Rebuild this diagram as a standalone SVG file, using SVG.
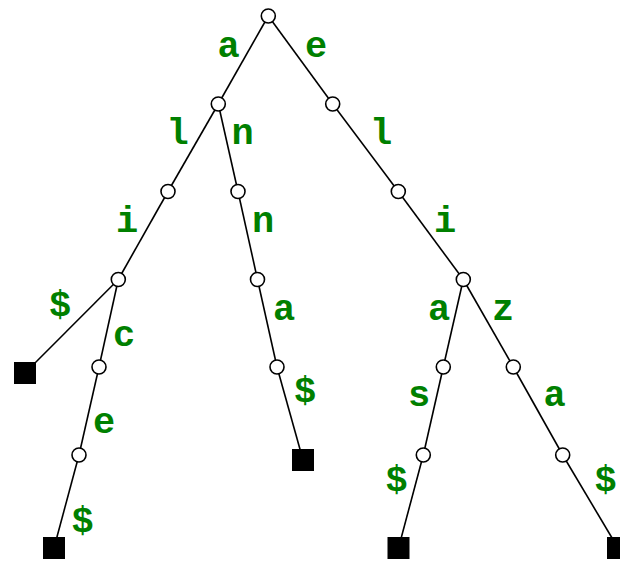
<svg xmlns="http://www.w3.org/2000/svg" width="620" height="561" viewBox="0 0 620 561">
<style>
.e{stroke:#000;stroke-width:1.6;fill:none}
.n{fill:#fff;stroke:#000;stroke-width:1.6}
.leaf{fill:#000}
.t{font-family:"Liberation Mono","Courier New",monospace;font-weight:bold;font-size:37px;fill:#008000;text-anchor:middle}
</style>
<rect width="620" height="561" fill="#fff"/>
<g id="connectors">
<line class="e" x1="268.3" y1="16" x2="218.3" y2="104"/>
<line class="e" x1="268.3" y1="16" x2="332.7" y2="104"/>
<line class="e" x1="218.3" y1="104" x2="168" y2="191.5"/>
<line class="e" x1="218.3" y1="104" x2="238" y2="191.5"/>
<line class="e" x1="332.7" y1="104" x2="398.3" y2="191.5"/>
<line class="e" x1="168" y1="191.5" x2="118.3" y2="279.5"/>
<line class="e" x1="238" y1="191.5" x2="257.5" y2="279.5"/>
<line class="e" x1="398.3" y1="191.5" x2="463.3" y2="279.5"/>
<line class="e" x1="118.3" y1="279.5" x2="25" y2="373"/>
<line class="e" x1="118.3" y1="279.5" x2="99" y2="367"/>
<line class="e" x1="257.5" y1="279.5" x2="277" y2="367"/>
<line class="e" x1="463.3" y1="279.5" x2="443.3" y2="367"/>
<line class="e" x1="463.3" y1="279.5" x2="513.3" y2="367"/>
<line class="e" x1="99" y1="367" x2="79" y2="455"/>
<line class="e" x1="277" y1="367" x2="303" y2="460"/>
<line class="e" x1="443.3" y1="367" x2="423.3" y2="455"/>
<line class="e" x1="513.3" y1="367" x2="562.7" y2="455"/>
<line class="e" x1="79" y1="455" x2="54" y2="548"/>
<line class="e" x1="423.3" y1="455" x2="398.5" y2="548"/>
<line class="e" x1="562.7" y1="455" x2="618" y2="548"/>
</g>
<g id="labels">
<text class="t" x="228.7" y="57">a</text>
<text class="t" x="316" y="57">e</text>
<text class="t" x="177.5" y="144">l</text>
<text class="t" x="242.5" y="144">n</text>
<text class="t" x="381" y="144">l</text>
<text class="t" x="127" y="232">i</text>
<text class="t" x="263" y="232">n</text>
<text class="t" x="445" y="232">i</text>
<text class="t" x="60" y="316">$</text>
<text class="t" x="124" y="346">c</text>
<text class="t" x="284" y="320">a</text>
<text class="t" x="439" y="320">a</text>
<text class="t" x="503" y="320">z</text>
<text class="t" x="104" y="433">e</text>
<text class="t" x="305" y="402">$</text>
<text class="t" x="419" y="406">s</text>
<text class="t" x="554.7" y="406">a</text>
<text class="t" x="82.5" y="532">$</text>
<text class="t" x="396.7" y="491">$</text>
<text class="t" x="605.5" y="491">$</text>
</g>
<g id="n-root"><circle class="n" cx="268.3" cy="16" r="7"/></g>
<g id="n-a"><circle class="n" cx="218.3" cy="104" r="7"/></g>
<g id="n-e"><circle class="n" cx="332.7" cy="104" r="7"/></g>
<g id="n-al"><circle class="n" cx="168" cy="191.5" r="7"/></g>
<g id="n-an"><circle class="n" cx="238" cy="191.5" r="7"/></g>
<g id="n-el"><circle class="n" cx="398.3" cy="191.5" r="7"/></g>
<g id="n-ali"><circle class="n" cx="118.3" cy="279.5" r="7"/></g>
<g id="n-ann"><circle class="n" cx="257.5" cy="279.5" r="7"/></g>
<g id="n-eli"><circle class="n" cx="463.3" cy="279.5" r="7"/></g>
<g id="n-alic"><circle class="n" cx="99" cy="367" r="7"/></g>
<g id="n-anna"><circle class="n" cx="277" cy="367" r="7"/></g>
<g id="n-elia"><circle class="n" cx="443.3" cy="367" r="7"/></g>
<g id="n-eliz"><circle class="n" cx="513.3" cy="367" r="7"/></g>
<g id="n-alice"><circle class="n" cx="79" cy="455" r="7"/></g>
<g id="n-elias"><circle class="n" cx="423.3" cy="455" r="7"/></g>
<g id="n-eliza"><circle class="n" cx="562.7" cy="455" r="7"/></g>
<g id="leaf-ali"><rect class="leaf" x="14" y="362" width="22" height="22"/></g>
<g id="leaf-anna"><rect class="leaf" x="292" y="449" width="22" height="22"/></g>
<g id="leaf-alice"><rect class="leaf" x="43" y="537" width="22" height="22"/></g>
<g id="leaf-elias"><rect class="leaf" x="387.5" y="537" width="22" height="22"/></g>
<g id="leaf-eliza"><rect class="leaf" x="607" y="537" width="22" height="22"/></g>
</svg>
